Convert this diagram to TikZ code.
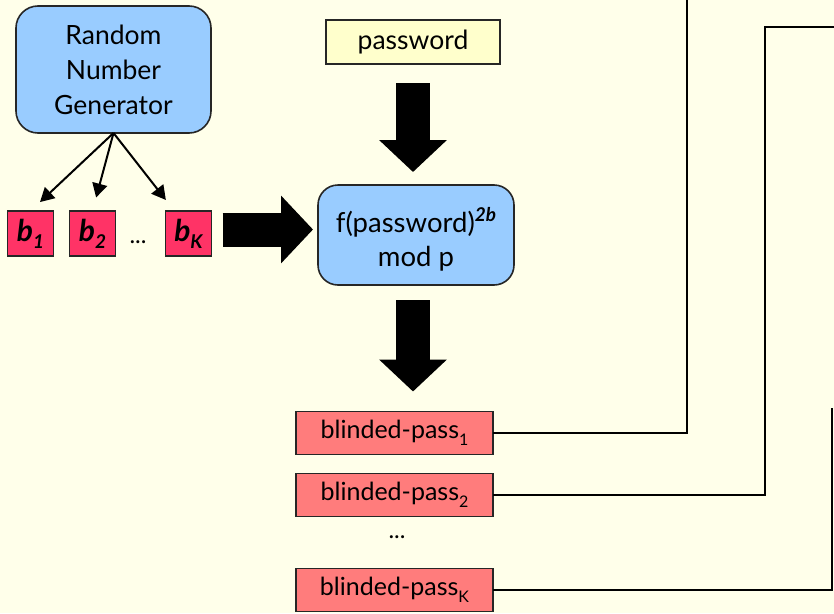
\documentclass[tikz,border=0pt]{standalone}
\usepackage{fontspec}
\setmainfont{Lato}
\usetikzlibrary{arrows.meta,calc}
\definecolor{bg}{RGB}{255,255,234}
\definecolor{lblue}{RGB}{153,204,255}
\definecolor{lyellow}{RGB}{255,255,204}
\definecolor{crimson}{RGB}{255,51,102}
\definecolor{salmon}{RGB}{255,124,124}
\newcommand{\bpsub}[1]{\raisebox{-7pt}{\fontsize{16}{16}\selectfont #1}}
\newcommand{\bsub}[1]{\raisebox{-7pt}{\fontsize{19}{19}\selectfont #1}}
\begin{document}
\begin{tikzpicture}[x=1pt,y=-1pt,
  every node/.style={inner sep=0pt,outer sep=0pt,font=\fontsize{25}{34}\selectfont},
  rbox/.style={draw=black!85,line width=1.6pt,rounded corners=22pt,fill=lblue,align=center},
  pbox/.style={draw=black!85,line width=1.4pt,fill=lyellow,minimum width=174pt,minimum height=44pt,font=\fontsize{26.5}{30}\selectfont},
  bbox/.style={draw=black!85,line width=1.4pt,fill=crimson,minimum width=46pt,minimum height=45pt,font=\fontsize{30}{30}\selectfont\bfseries\itshape},
  bpbox/.style={draw=black!85,line width=1.4pt,fill=salmon,minimum width=197pt,minimum height=43pt},
  bigarrow/.style={line width=34pt,-{Triangle[width=66pt,length=32pt]}},
  thinarrow/.style={line width=2pt,-{Triangle[width=15pt,length=14pt]}},
  wire/.style={line width=2pt}
]
\fill[bg] (0,0) rectangle (834,613);
\useasboundingbox (0,0) rectangle (834,613);

\node[rbox,minimum width=195pt,minimum height=127pt,font=\fontsize{26.5}{35}\selectfont] (rng) at (113.5,69.5) {Random\\Number\\Generator};
\node[pbox] (pw) at (413,42) {password};
\node[rbox,minimum width=196pt,minimum height=100pt,rounded corners=20pt] (f) at (416,235) {};
\node[align=center,font=\fontsize{27.5}{34}\selectfont] (ftext) at ([yshift=-4pt]f.center)
  {f(password)\raisebox{11pt}{\fontsize{19}{19}\selectfont\bfseries\itshape 2b}\\mod p};

\node[bbox] (b1) at (30.5,233.5) {b\bsub{1}};
\node[bbox] (b2) at (92.5,233.5) {b\bsub{2}};
\node[bbox] (bK) at (188.5,233.5) {b\bsub{K}};
\node (bdots) at (138,242) {\fontsize{24}{24}\selectfont ...};

\node[bpbox] (bp1) at (394.5,433) {blinded-pass\bpsub{1}};
\node[bpbox] (bp2) at (394.5,495) {blinded-pass\bpsub{2}};
\node (pdots) at (397,537) {\fontsize{24}{24}\selectfont ...};
\node[bpbox] (bpK) at (394.5,590) {blinded-pass\bpsub{K}};

\draw[thinarrow,shorten >=13pt] (rng.south) -- (b1.north);
\draw[thinarrow,shorten >=14pt] (rng.south) -- (b2.north);
\draw[thinarrow,shorten >=14pt] (rng.south) -- ([xshift=-14pt]bK.north);

\draw[bigarrow,shorten <=19pt,shorten >=13pt] (pw.south) -- (pw.south |- f.north);
\draw[bigarrow,shorten <=11pt,shorten >=5pt] ([yshift=4pt]bK.east) -- ([yshift=4pt]bK.east -| f.west);
\draw[bigarrow,shorten <=15pt,shorten >=20pt] ([xshift=-3pt]f.south) -- ([xshift=-3pt]f.south |- bp1.north);

\coordinate (t1) at (687,0);
\coordinate (c2) at (765,27);
\coordinate (t2) at (834,27);
\coordinate (t3) at (832,408);
\draw[wire] (bp1.east) -| (t1);
\draw[wire] (bp2.east) -| (c2) -- (t2);
\draw[wire] (bpK.east) -| (t3);
\end{tikzpicture}
\end{document}
